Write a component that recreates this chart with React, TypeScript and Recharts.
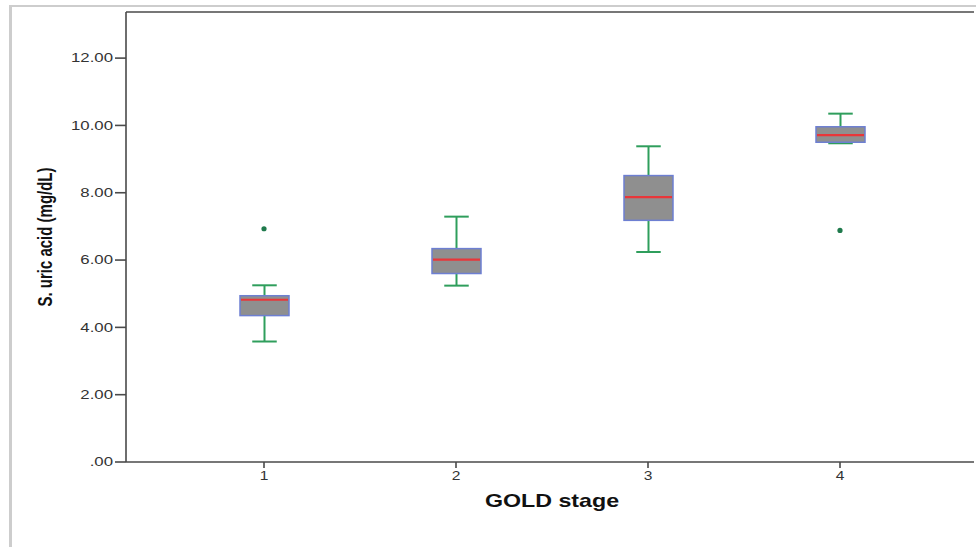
import { ComposedChart, Bar, Scatter, XAxis, YAxis } from 'recharts';

// GOLD stage categories and the box-plot statistics
const stages = ['1', '2', '3', '4'];
const lowerWhisker = [3.58, 5.24, 6.24, 9.47];
const quartile1 = [4.35, 5.6, 7.18, 9.5];
const medians = [4.82, 6.01, 7.87, 9.71];
const quartile3 = [4.94, 6.34, 8.51, 9.96];
const upperWhisker = [5.25, 7.29, 9.38, 10.35];
const outliers: (number | null)[] = [6.93, null, null, 6.88];
const yTicks = [0, 2, 4, 6, 8, 10, 12];

const data = stages.map((stage, i) => ({
  stage,
  range: [lowerWhisker[i], upperWhisker[i]],
  low: lowerWhisker[i],
  q1: quartile1[i],
  median: medians[i],
  q3: quartile3[i],
  high: upperWhisker[i],
  outlier: outliers[i],
}));

const FONT = '"Liberation Sans", Arial, sans-serif';
const AXIS = '#4a4a4a';
const WHISKER = '#2f9e5c';
const BOX_FILL = '#8f8f8f';
const BOX_EDGE = '#6d7fd2';
const MEDIAN = '#e8363a';
const DOT = '#1f7a4c';

const fmt = (v: number) => (v === 0 ? '.00' : v.toFixed(2));

// whisker range comes from the bar, box and median are placed on the same scale
function BoxShape(props: any) {
  const { x, y, width, height, payload } = props;
  const top = Math.min(y, y + height);
  const bottom = Math.max(y, y + height);
  const perUnit = (bottom - top) / (payload.high - payload.low);
  const yOf = (v: number) => top + (payload.high - v) * perUnit;
  const cx = x + width / 2;
  const cap = width / 4;
  const bTop = yOf(payload.q3);
  const bBot = yOf(payload.q1);
  const med = yOf(payload.median);
  return (
    <g>
      <line x1={cx} x2={cx} y1={top} y2={bottom} stroke={WHISKER} strokeWidth={2} />
      <line x1={cx - cap} x2={cx + cap} y1={top} y2={top} stroke={WHISKER} strokeWidth={2} />
      <line x1={cx - cap} x2={cx + cap} y1={bottom} y2={bottom} stroke={WHISKER} strokeWidth={2} />
      <rect x={x} y={bTop} width={width} height={bBot - bTop} fill={BOX_FILL} stroke={BOX_EDGE} strokeWidth={1.5} />
      <line x1={x + 1} x2={x + width - 1} y1={med} y2={med} stroke={MEDIAN} strokeWidth={2.2} />
    </g>
  );
}

function OutlierDot(props: any) {
  const { cx, cy, payload } = props;
  if (payload?.outlier == null || !Number.isFinite(cy)) return <g />;
  return <circle cx={cx} cy={cy} r={2.6} fill={DOT} />;
}

const YTick = ({ x, y, payload }: any) => (
  <g transform={`translate(${x},${y}) scale(1.4,1)`}>
    <text textAnchor="end" dy="0.35em" fontSize={12} fill="#333" fontFamily={FONT}>
      {fmt(payload.value)}
    </text>
  </g>
);

const XTick = ({ x, y, payload }: any) => (
  <g transform={`translate(${x},${y}) scale(1.3,1)`}>
    <text textAnchor="middle" dy="0.71em" fontSize={12} fill="#333" fontFamily={FONT}>
      {payload.value}
    </text>
  </g>
);

export default function App() {
  return (
    <div style={{ position: 'absolute', left: 0, top: 0, width: 976, height: 547, background: '#fff' }}>
      <div
        style={{
          position: 'absolute', left: 9, top: 5, right: 0, bottom: 0,
          borderTop: '2px solid #cdcdcd', borderLeft: '3px solid #cdcdcd',
        }}
      />
      <div style={{ position: 'absolute', left: 0, top: 0 }}>
        <ComposedChart width={976} height={547} data={data} margin={{ top: 11, right: 2, bottom: 55, left: 46 }}>
          <XAxis
            dataKey="stage"
            height={30}
            padding={{ left: 42, right: 38 }}
            axisLine={{ stroke: AXIS, strokeWidth: 1.6 }}
            tickLine={{ stroke: AXIS, strokeWidth: 1.6 }}
            tickSize={6}
            tickMargin={3}
            tick={<XTick />}
            label={{
              content: () => (
                <g transform="translate(552,507) scale(1.29,1)">
                  <text textAnchor="middle" fontSize={18} fontWeight="bold" fill="#111" fontFamily={FONT}>
                    GOLD stage
                  </text>
                </g>
              ),
            }}
          />
          <XAxis xAxisId="top" orientation="top" dataKey="stage" height={1} tick={false} tickLine={false}
            axisLine={{ stroke: AXIS, strokeWidth: 1.6 }} />
          <YAxis
            width={80}
            domain={[0, 13.37]}
            ticks={yTicks}
            allowDataOverflow
            axisLine={{ stroke: AXIS, strokeWidth: 1.6 }}
            tickLine={{ stroke: AXIS, strokeWidth: 1.6 }}
            tickSize={11}
            tickMargin={2}
            tick={<YTick />}
            label={{
              content: () => (
                <g transform="translate(52,237) scale(1.35,1) rotate(-90)">
                  <text textAnchor="middle" fontSize={15} fontWeight="bold" fill="#111" fontFamily={FONT}>
                    S. uric acid (mg/dL)
                  </text>
                </g>
              ),
            }}
          />
          <YAxis yAxisId="right" orientation="right" width={0} tick={false} tickLine={false}
            axisLine={{ stroke: AXIS, strokeWidth: 1.6 }} />
          <Bar dataKey="range" barSize={49} shape={<BoxShape />} isAnimationActive={false} />
          <Scatter dataKey="outlier" shape={<OutlierDot />} isAnimationActive={false} />
        </ComposedChart>
      </div>
    </div>
  );
}
